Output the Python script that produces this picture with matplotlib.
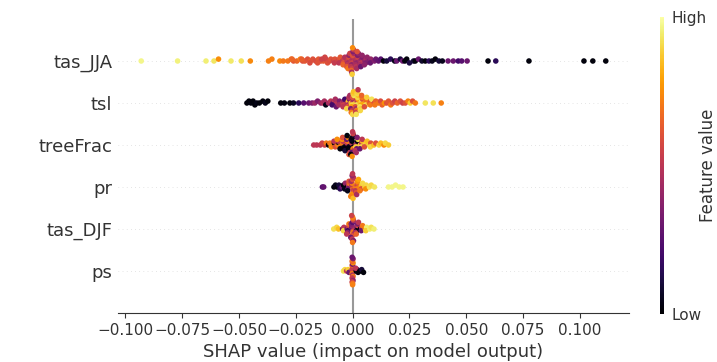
import numpy as np
import matplotlib
matplotlib.use("Agg")
import matplotlib.pyplot as plt
from matplotlib.cm import ScalarMappable
from matplotlib.colors import Normalize

# ---------------- data (SHAP values in units of 1e-3, feature values normalised 0..1) -------------
features = ["tas_JJA", "tsl", "treeFrac", "pr", "tas_DJF", "ps"]   # top -> bottom
x_ticks = [-0.100, -0.075, -0.050, -0.025, 0.000, 0.025, 0.050, 0.075, 0.100]

tas_jja_shap = [-93, -77, -64.5, -61, -59, -53.5, -49, -45,
                -37, -35.5, -32, -30.5, -28.5, -27, -26, -24.5, -23, -22, -21, -19.8, -18.5, -17.5, -16.3, -15, -14, -12.8, -11.8, -11,
                -22.4, -18.8, -15.4, -12.2, -26.6, -13.6,
                -10.2, -9.6,
                -8.4, -7.8, -8.0,
                -6.4, -5.8, -6.0, -5.4,
                -4.4, -3.8, -4.0, -3.4, -4.2,
                -2.4, -1.8, -2.0, -1.4, -2.2, -1.6, -2.6, -1.2, -2.0,
                -0.6, 0.2, -0.2, 0.4, -0.4, 0.0, -0.8, 0.6, -0.2, 0.2, -0.6, 0.4, -0.4, 0.0, -0.2,
                1.4, 2.0, 1.8, 2.4, 1.2, 2.2, 1.6, 2.6, 1.8, 2.0,
                3.4, 4.0, 3.8, 4.4, 3.2, 4.2, 3.6,
                5.4, 6.0, 5.8, 6.4, 5.2,
                7.4, 8.0, 7.8,
                9.6, 10.2,
                11.4, 12.4, 13.6, 15.0, 16.7, 18.5, 19.4, 21.0, 22.0, 23.0, 23.8, 25.0, 26.8, 27.6, 29.0, 30.5, 32.0,
                33.6, 35.0, 36.4, 38.0, 39.5, 42.0, 44.3, 46.5, 48.0, 50.4, 59.6, 63.0, 77.6, 101.8, 105.7, 111.4]
tas_jja_feat = [.97, .96, .95, .93, .75, .94, .92, .74,
                .72, .72, .74, .70, .70, .68, .62, .66, .72, .60, .62, .60, .64, .60, .58, .62, .60, .62, .55, .60,
                .64, .58, .60, .56, .66, .55,
                .58, .60,
                .55, .60, .52,
                .55, .60, .50, .62,
                .50, .55, .60, .48, .65,
                .50, .55, .45, .60, .50, .40, .62, .55, .70,
                .50, .45, .55, .50, .40, .60, .50, .45, .55, .35, .65, .50, .45, .74, .88,
                .45, .50, .40, .55, .45, .35, .50, .40, .45, .60,
                .45, .40, .50, .35, .45, .40, .30,
                .40, .45, .35, .40, .38,
                .35, .40, .30,
                .35, .30,
                .28, .25, .02, .10, .15, .05, .30, .10, .30, .03, .02, .12, .10, .02, .30, .08, .02,
                .15, .05, .02, .10, .05, .30, .30, .20, .25, .30, .02, .15, .02, .02, .02, .02]

tsl_shap = [-46.5, -45.6, -44.7, -43.8, -43.0, -42.2, -41.0, -39.5, -38.4, -37.3, -31.6, -30.0, -27.6, -26.0,
            -23.7, -21.5, -19.3, -17.8, -16.6, -15.4, -14.0, -13.0, -12.4, -11.8, -10.6, -9.6, -8.6, -8.0, -9.0,
            -7.6, -7.2,
            -6.4, -5.8, -6.0,
            -4.4, -3.8, -4.0, -3.4, -4.2,
            -2.4, -1.8, -2.0, -1.4, -2.2, -1.6, -2.6, -1.2,
            -0.6, 0.2, -0.2, 0.4, -0.4, 0.0, -0.8, 0.6, -0.2, 0.2, -0.6, 0.4, 0.0,
            1.4, 2.0, 1.8, 2.4, 1.2, 2.2, 1.6, 2.6, 1.8, 2.0, 1.4, 2.2, 1.6, 2.4,
            3.4, 4.0, 3.8, 4.4, 3.2, 4.2, 3.6, 4.0, 3.4,
            5.4, 6.0, 5.8, 6.4, 5.2, 6.2,
            7.4, 8.0, 7.8, 8.4,
            9.6, 10.2, 9.8,
            11.4, 12.3, 13.0, 14.0, 15.0, 15.8, 16.8, 17.6, 18.6, 19.7, 21.0, 22.0, 23.2, 24.4, 25.4, 26.4, 27.6,
            32.0, 35.5, 39.0]
tsl_feat = [.02, .02, .03, .02, .02, .04, .02, .02, .05, .02, .02, .03, .02, .06,
            .15, .25, .30, .35, .42, .35, .40, .48, .45, .04, .45, .50, .30, .50, .20,
            .45, .30,
            .50, .35, .45,
            .50, .40, .55, .20, .50,
            .50, .85, .45, .35, .60, .50, .90, .45,
            .85, .50, .90, .45, .80, .60, .35, .92, .50, .88, .70, .85, .90,
            .88, .50, .92, .80, .60, .90, .45, .85, .70, .90, .55, .88, .92, .50,
            .85, .90, .80, .60, .92, .70, .88, .65, .90,
            .80, .65, .90, .70, .60, .88,
            .65, .60, .70, .92,
            .60, .65, .70,
            .70, .58, .65, .75, .60, .62, .70, .60, .55, .65, .60, .55, .60, .72, .88, .60, .70,
            .93, .92, .72]

treefrac_shap = [-17.1, -15.8, -14.2, -13.4, -12.3, -11.6,
                 -10.6, -10.0, -9.4,
                 -8.5, -8.0, -7.6, -8.2,
                 -6.5, -6.0, -5.8, -6.2, -5.5, -6.8,
                 -4.0, -4.5, -3.5, -4.2, -3.8, -4.6, -3.3, -4.4,
                 -2.0, -2.4, -1.6, -2.2, -1.8, -2.6, -1.4, -2.0, -1.2, -2.4, -1.6,
                 0.0, -0.4, 0.4, -0.2, 0.2, -0.6, 0.6, 0.0, -0.4, 0.4, -0.8, 0.2, -0.2, 0.0,
                 1.6, 2.0, 1.4, 2.2, 1.8, 2.4, 1.2, 2.0, 1.6,
                 3.4, 4.0, 3.8, 4.4, 3.2, 4.2,
                 5.6, 6.2, 5.2, 6.4,
                 7.4, 8.0, 7.8,
                 9.4, 10.2,
                 11.6, 12.4,
                 13.8, 14.4, 15.8]
treefrac_feat = [.50, .50, .50, .55, .55, .70,
                 .02, .70, .75,
                 .72, .02, .60, .50,
                 .70, .05, .72, .50, .02, .75,
                 .02, .70, .05, .50, .02, .75, .10, .60,
                 .02, .50, .05, .70, .02, .30, .04, .72, .50, .02, .60,
                 .02, .50, .04, .02, .72, .05, .50, .02, .30, .06, .02, .55, .75, .50,
                 .50, .40, .88, .02, .30, .90, .50, .35, .45,
                 .88, .50, .90, .85, .30, .50,
                 .90, .88, .60, .85,
                 .88, .60, .90,
                 .85, .60,
                 .90, .85,
                 .75, .90, .88]

pr_shap = [-13.3, -12.7, -8.2, -7.5, -6.8, -6.0, -5.5,
           -4.6, -4.0, -3.5, -3.2,
           -2.4, -1.8, -2.0, -1.4, -2.2, -1.6,
           0.0, -0.4, 0.4, -0.2, 0.2, -0.6, 0.6, 0.0, -0.4, 0.4, -0.8, -0.2, 0.2, 0.0,
           1.4, 2.0, 1.8, 2.4, 1.2, 2.2, 1.6, 2.6, 1.8,
           3.4, 4.0, 3.8, 4.4, 3.2,
           5.4, 6.0, 5.8,
           7.4, 8.2,
           9.6, 15.8, 17.4, 18.9, 20.5, 22.2]
pr_feat = [.25, .28, .02, .05, .02, .10, .15,
           .30, .02, .05, .40,
           .02, .50, .30, .70, .05, .60,
           .70, .50, .65, .72, .55, .45, .70, .60, .75, .50, .72, .40, .85, .50,
           .70, .55, .72, .65, .50, .75, .60, .80, .45,
           .75, .85, .60, .90, .70,
           .88, .90, .75,
           .92, .90,
           .93, .97, .97, .97, .97, .97]

tas_djf_shap = [-8.3, -7.0, -6.2,
                -4.4, -3.8, -4.0,
                -2.4, -1.8, -2.0, -1.4, -2.2, -1.6, -2.6,
                0.0, -0.4, 0.4, -0.2, 0.2, -0.6, 0.6, 0.0, -0.4, 0.4, -0.8, 0.2, -0.2, 0.0, 0.4, -0.4, 0.0,
                1.4, 2.0, 1.8, 2.4, 1.2, 2.2, 1.6, 2.6,
                3.4, 4.0, 3.8, 4.4,
                5.6, 6.2, 5.8,
                7.6, 8.2,
                9.4]
tas_djf_feat = [.92, .90, .85,
                .30, .50, .90,
                .30, .50, .15, .55, .35, .70, .50,
                .50, .30, .55, .40, .70, .35, .50, .25, .60, .45, .30, .65, .50, .72, .35, .55, .70,
                .50, .30, .02, .60, .45, .35, .65, .50,
                .02, .55, .30, .70,
                .75, .95, .88,
                .95, .92,
                .95]

ps_shap = [-4.0, -3.4, -2.6, -2.0, -1.6,
           0.0, -0.2, 0.2, 0.0, -0.2, 0.2, 0.0, -0.2, 0.2, 0.0, -0.2, 0.2, 0.0, -0.2, 0.2, 0.0, -0.2, 0.2, 0.0, -0.2, 0.0,
           1.6, 2.0, 2.4, 1.4,
           3.2, 4.0, 4.8]
ps_feat = [.92, .90, .50, .88, .30,
           .60, .50, .65, .55, .70, .50, .45, .62, .70, .30, .55, .75, .50, .65, .40, .70, .55, .35, .68, .30, .72,
           .02, .15, .02, .50,
           .02, .10, .02]

shap_values = {"tas_JJA": tas_jja_shap, "tsl": tsl_shap, "treeFrac": treefrac_shap,
               "pr": pr_shap, "tas_DJF": tas_djf_shap, "ps": ps_shap}
feature_values = {"tas_JJA": tas_jja_feat, "tsl": tsl_feat, "treeFrac": treefrac_feat,
                  "pr": pr_feat, "tas_DJF": tas_djf_feat, "ps": ps_feat}

# ---------------- plot -------------
axis_color = "#333333"
cmap = plt.get_cmap("inferno")
BIN = 0.002
row_height = 0.4

fig = plt.figure(figsize=(7.17, 3.62), dpi=100)
ax = fig.add_axes([118 / 717, 49 / 362, 511 / 717, 294 / 362])

n = len(features)
all_x = []
for i, name in enumerate(features):
    pos = n - 1 - i
    shaps = np.array(shap_values[name]) * 1e-3
    vals = np.array(feature_values[name])
    all_x.extend(shaps)
    quant = np.round(shaps / BIN)
    inds = np.argsort(quant, kind="stable")
    ys = np.zeros(len(shaps))
    layer = 0
    last_bin = None
    for ind in inds:
        if quant[ind] != last_bin:
            layer = 0
        ys[ind] = np.ceil(layer / 2) * ((layer % 2) * 2 - 1)
        layer += 1
        last_bin = quant[ind]
    ys *= 0.9 * (row_height / np.max(ys + 1))
    ax.axhline(y=pos, color="#cccccc", lw=0.5, dashes=(1, 5), zorder=-1)
    ax.scatter(shaps, pos + ys, c=vals, cmap=cmap, vmin=0, vmax=1, s=16,
               linewidth=0, alpha=1, zorder=3)

ax.axvline(x=0, color="#999999", zorder=-1)

xmin, xmax = min(all_x), max(all_x)
pad = 0.05 * (xmax - xmin)
ax.set_xlim(xmin - pad, xmax + pad)
ax.set_ylim(-1, n)

ax.set_yticks(range(n))
ax.set_yticklabels(features[::-1], fontsize=13)
ax.set_xticks(x_ticks)
ax.tick_params(axis="y", length=0, pad=4, colors=axis_color, labelcolor=axis_color)
ax.tick_params(axis="x", labelsize=11, colors=axis_color, labelcolor=axis_color)
for s in ["top", "right", "left"]:
    ax.spines[s].set_visible(False)
ax.spines["bottom"].set_color(axis_color)
ax.set_xlabel("SHAP value (impact on model output)", fontsize=13, color=axis_color)

# colorbar
cax = fig.add_axes([660 / 717, 48 / 362, 3.5 / 717, 297 / 362])
sm = ScalarMappable(norm=Normalize(0, 1), cmap=cmap)
cb = fig.colorbar(sm, cax=cax, ticks=[0, 1])
cb.set_ticklabels(["Low", "High"])
cb.ax.tick_params(labelsize=11, length=0, pad=6, labelcolor=axis_color)
cb.outline.set_visible(False)
fig.text(708 / 717, (48 + 297 / 2) / 362, "Feature value", rotation=90, fontsize=12,
         color=axis_color, ha="center", va="center")

fig.savefig("out.png", dpi=100)
